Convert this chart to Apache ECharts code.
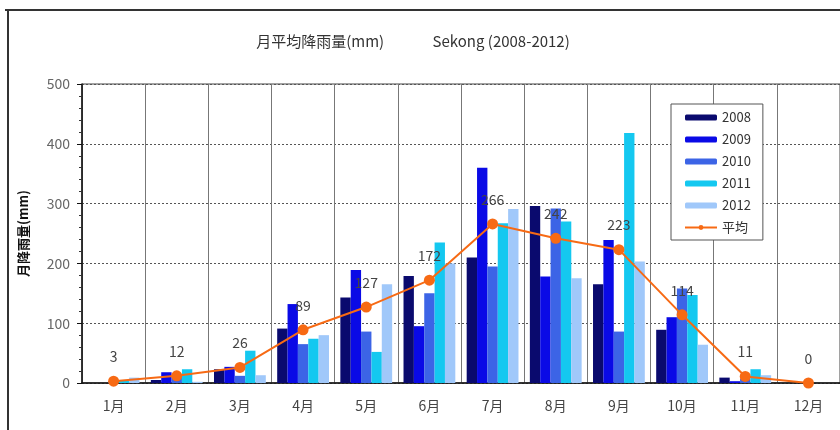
<!DOCTYPE html>
<html>
<head>
<meta charset="utf-8">
<script src="https://cdn.jsdelivr.net/npm/echarts@6/dist/echarts.min.js"></script>
<style>
  html, body { margin: 0; padding: 0; background: #fff; }
  #chart { width: 840px; height: 430px; }
</style>
</head>
<body>
<div id="chart"></div>
<script>
// monthly rainfall, Sekong 2008-2012 (mm)
const months = ['1月', '2月', '3月', '4月', '5月', '6月', '7月', '8月', '9月', '10月', '11月', '12月']
const rain2008 = [0, 5, 23, 91, 143, 179, 210, 296, 165, 89, 9, 0]
const rain2009 = [0, 18, 27, 132, 189, 95, 360, 178, 239, 110, 3, 0]
const rain2010 = [2, 12, 12, 65, 86, 150, 195, 292, 86, 158, 7, 0]
const rain2011 = [4, 23, 54, 74, 52, 235, 267, 270, 418, 147, 23, 0]
const rain2012 = [9, 2, 13, 80, 165, 200, 291, 175, 203, 64, 13, 0]
const rainAvg = [3, 12, 26, 89, 127, 172, 266, 242, 223, 114, 11, 0]
const yTicks = [0, 100, 200, 300, 400, 500]

const font = '"Noto Sans CJK JP", "Noto Sans", sans-serif'
const chart = echarts.init(document.getElementById('chart'))

const barSeries = (name, data, color) => ({
  name,
  type: 'bar',
  data,
  barGap: 0,
  barCategoryGap: '18%',
  itemStyle: { color }
})

const option = {
  animation: false,
  backgroundColor: '#fff',
  textStyle: { fontFamily: font },
  title: {
    text: '月平均降雨量(mm)　　　 Sekong (2008-2012)',
    left: 408,
    top: 29,
    textAlign: 'center',
    textStyle: { fontSize: 15, fontWeight: 'normal', color: '#333', fontFamily: font }
  },
  legend: {
    orient: 'vertical',
    left: 671,
    top: 104,
    padding: [7, 12, 6, 13],
    itemGap: 9,
    itemWidth: 32,
    itemHeight: 6,
    backgroundColor: '#fff',
    borderColor: '#555',
    borderWidth: 1,
    textStyle: { fontSize: 13, color: '#333', fontFamily: font },
    data: ['2008', '2009', '2010', '2011', '2012', '平均']
  },
  grid: {
    left: 82,
    top: 84,
    width: 761,
    height: 299,
    show: true,
    borderColor: '#444',
    borderWidth: 1
  },
  xAxis: {
    type: 'category',
    data: months,
    axisLine: { lineStyle: { color: '#111', width: 1.5 } },
    axisTick: { show: false },
    axisLabel: { margin: 16, fontSize: 14, color: '#444', fontFamily: font },
    splitLine: { show: true, lineStyle: { color: '#777', width: 1 } }
  },
  yAxis: {
    type: 'value',
    min: yTicks[0],
    max: yTicks[yTicks.length - 1],
    interval: 100,
    name: '月降雨量(mm)',
    nameLocation: 'middle',
    nameGap: 52,
    nameRotate: 90,
    nameTextStyle: { fontSize: 13, fontWeight: 'bold', color: '#111', fontFamily: font },
    axisLine: { show: true, lineStyle: { color: '#111', width: 1.5 } },
    axisTick: { show: true, length: 5, lineStyle: { color: '#111' } },
    minorTick: { show: true, splitNumber: 5, length: 3, lineStyle: { color: '#333' } },
    axisLabel: { margin: 12, fontSize: 14, color: '#666', fontFamily: font },
    splitLine: { show: true, lineStyle: { color: '#555', type: [2, 2], width: 1 } }
  },
  graphic: [
    { type: 'line', shape: { x1: 5, y1: 10, x2: 840, y2: 10 }, style: { stroke: '#333', lineWidth: 2 } },
    { type: 'line', shape: { x1: 8, y1: 10, x2: 8, y2: 430 }, style: { stroke: '#333', lineWidth: 2 } }
  ],
  series: [
    barSeries('2008', rain2008, '#0a0a6e'),
    barSeries('2009', rain2009, '#0a0ae6'),
    barSeries('2010', rain2010, '#3c64e6'),
    barSeries('2011', rain2011, '#14c8f0'),
    barSeries('2012', rain2012, '#a0c8fa'),
    {
      name: '平均',
      type: 'line',
      data: rainAvg,
      z: 5,
      symbol: 'circle',
      symbolSize: 11,
      itemStyle: { color: '#f76a14' },
      lineStyle: { color: '#f76a14', width: 2 },
      label: {
        show: true,
        position: 'top',
        distance: 12,
        fontSize: 14,
        color: '#444',
        fontFamily: font
      }
    }
  ]
}

chart.setOption(option)
window.addEventListener('resize', () => chart.resize())
</script>
</body>
</html>
